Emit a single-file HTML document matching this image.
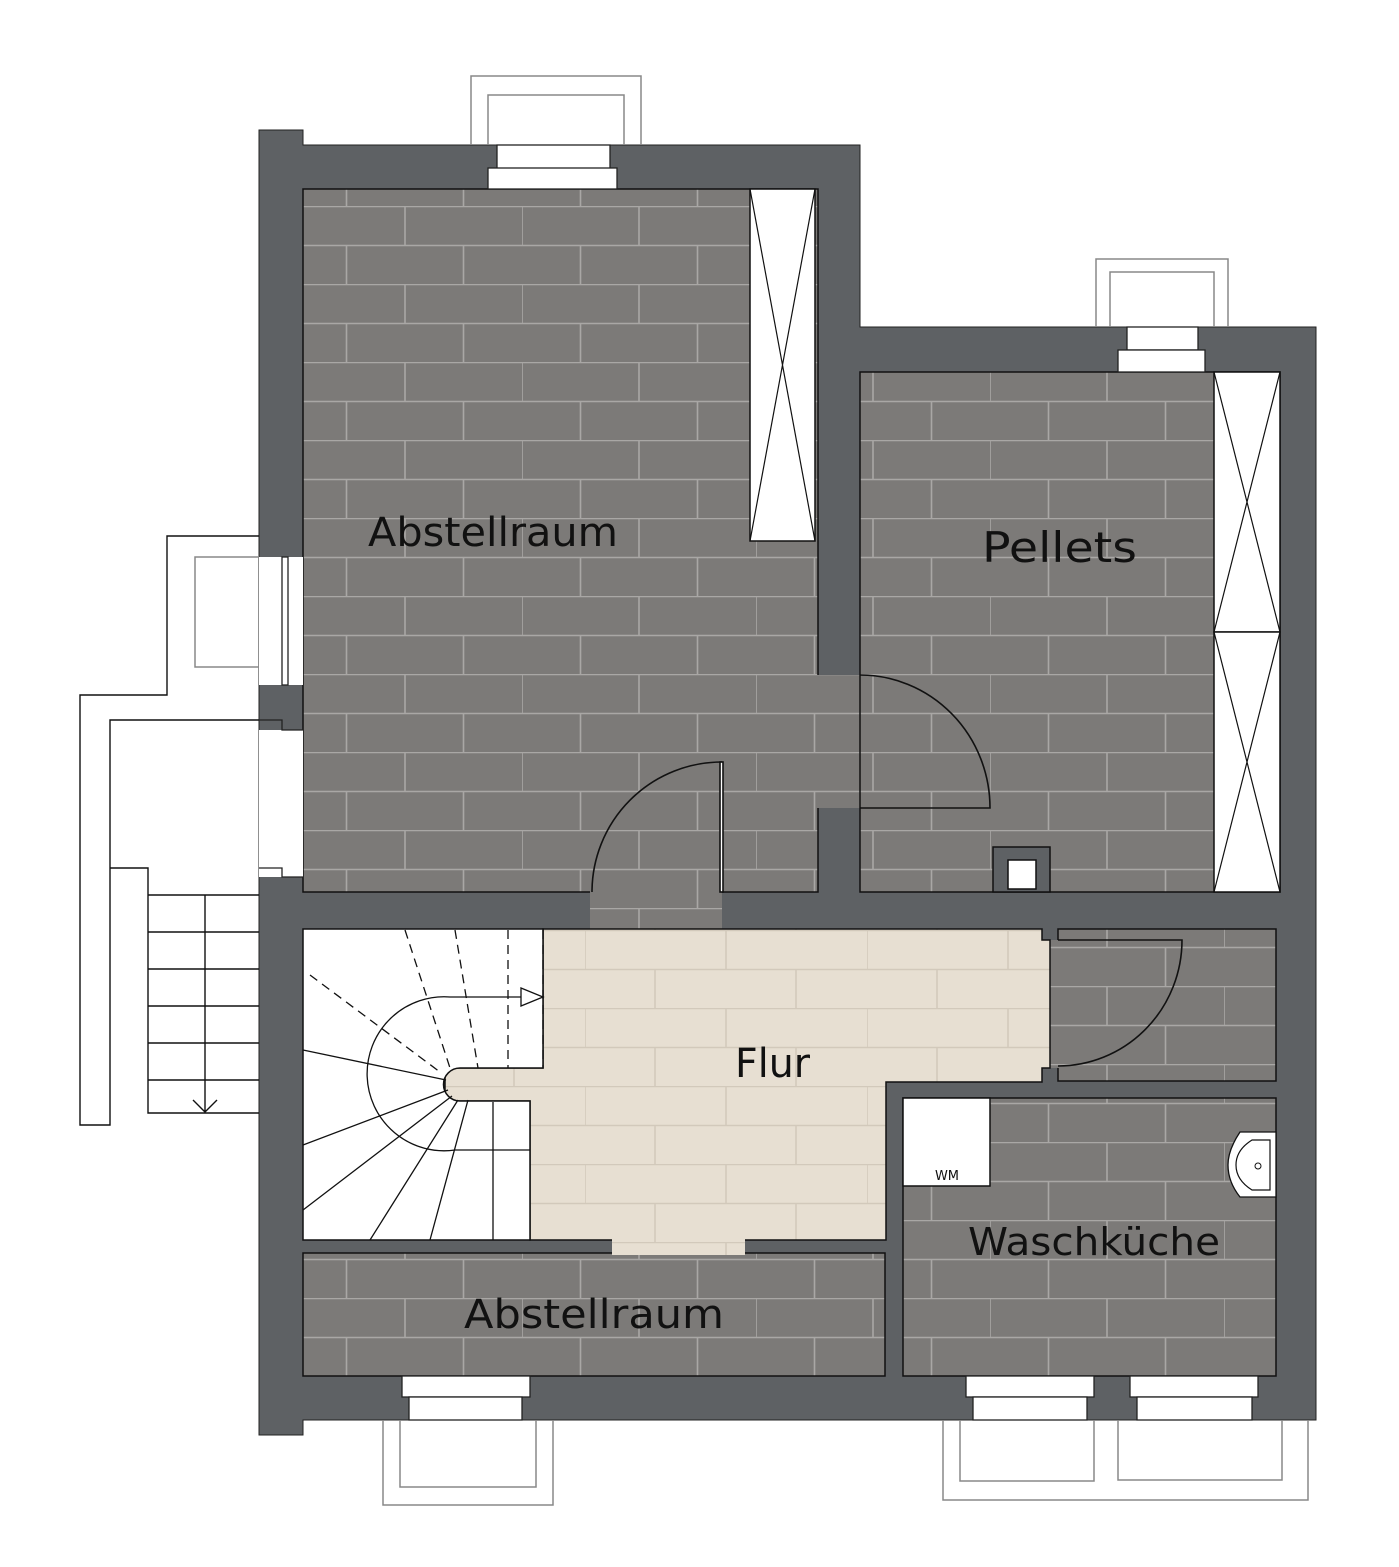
<!DOCTYPE html>
<html><head><meta charset="utf-8"><style>html,body{margin:0;padding:0;background:#fff}svg{display:block}</style></head><body>
<svg width="1399" height="1567" viewBox="0 0 1399 1567" xmlns="http://www.w3.org/2000/svg" font-family="'DejaVu Sans','Liberation Sans',sans-serif">
<defs>
<pattern id="g" x="288" y="206" width="234" height="78" patternUnits="userSpaceOnUse">
<rect width="234" height="78" fill="#7c7a78"/>
<path d="M0 0.5H234M0 39.5H234M0 0V39M117 0V39M58.5 39V78M175.5 39V78" stroke="#a9a7a5" stroke-width="1.6" fill="none"/>
</pattern>
<pattern id="b" x="303" y="930" width="282" height="78" patternUnits="userSpaceOnUse">
<rect width="282" height="78" fill="#e7dfd2"/>
<path d="M0 0.5H282M0 39.5H282M0 0V39M141 0V39M70 39V78M211 39V78" stroke="#d2c9bb" stroke-width="1.5" fill="none"/>
</pattern>
</defs>
<path d="M259 130H303V145H860V327H1316V1420H303V1435H259Z" fill="#5e6164" stroke="#222" stroke-width="1"/>
<g stroke="#111" stroke-width="1.5">
<rect x="303" y="189" width="515" height="703" fill="url(#g)"/>
<rect x="817" y="675" width="45" height="133" fill="url(#g)" stroke="none"/>
<rect x="860" y="372" width="420" height="520" fill="url(#g)"/>
<rect x="590" y="890" width="132" height="42" fill="url(#g)" stroke="none"/>
<rect x="1058" y="929" width="218" height="152" fill="url(#g)"/>
<rect x="903" y="1098" width="373" height="278" fill="url(#g)"/>
<rect x="1045" y="940" width="16" height="128" fill="url(#g)" stroke="none"/>
<rect x="303" y="1253" width="582" height="123" fill="url(#g)"/>
<path d="M543 929H1042V940H1050V1068H1042V1082H886V1240H530V1101H445V1068H543Z" fill="url(#b)"/>
<rect x="612" y="1238" width="133" height="17" fill="url(#b)" stroke="none"/>
<path d="M303 929H543V1068H460A16 16 0 0 0 460 1101H530V1240H303Z" fill="#fff"/>
</g>
<rect x="993" y="847" width="57" height="45" fill="#5e6164" stroke="#111" stroke-width="1.5"/>
<rect x="1008" y="860" width="28" height="29" fill="#fff" stroke="#111" stroke-width="1.5"/>
<g fill="#fff" stroke="#111" stroke-width="1.5">
<rect x="750" y="189" width="65" height="352"/>
<path d="M750 189L815 541M815 189L750 541" fill="none" stroke-width="1.2"/>
<rect x="1214" y="372" width="66" height="260"/>
<rect x="1214" y="632" width="66" height="260"/>
<path d="M1214 372L1280 632M1280 372L1214 632M1214 632L1280 892M1280 632L1214 892" fill="none" stroke-width="1.2"/>
</g>
<g fill="#fff" stroke="#222" stroke-width="1.3">
<rect x="497" y="145" width="113" height="24"/><rect x="488" y="168" width="129" height="21"/>
<rect x="1127" y="327" width="71" height="23"/><rect x="1118" y="350" width="87" height="22"/>
<rect x="402" y="1376" width="128" height="21"/><rect x="409" y="1397" width="113" height="23"/>
<rect x="966" y="1376" width="128" height="21"/><rect x="973" y="1397" width="114" height="23"/>
<rect x="1130" y="1376" width="128" height="21"/><rect x="1137" y="1397" width="115" height="23"/>
<rect x="259" y="557" width="44" height="128" stroke="none"/>
<rect x="282" y="557" width="6" height="128"/>
<rect x="259" y="730" width="44" height="147" stroke="none"/>
<path d="M259 720H282V730H303M259 868H282V877H303" fill="none"/>
</g>
<g fill="none" stroke="#888" stroke-width="1.5">
<path d="M471 145V76H641V145M488 145V95H624V145"/>
<path d="M1096 327V259H1228V327M1110 327V272H1214V327"/>
<path d="M383 1420V1505H553V1420M400 1420V1487H536V1420"/>
<path d="M943 1420V1500H1308V1420M960 1420V1481H1094V1420M1118 1420V1480H1282V1420"/>
<path d="M259 557H195V667H259"/>
</g>
<g fill="none" stroke="#111" stroke-width="1.4">
<path d="M259 536H167V695H80V1125H110V720H259"/>
<path d="M110 868H148V1113H259"/>
<path d="M148 895H259M148 932H259M148 969H259M148 1006H259M148 1043H259M148 1080H259M205 895V1112M193 1100L205 1112L217 1100"/>
</g>
<g fill="none" stroke="#111" stroke-width="1.3">
<path d="M405 930L450 1068M455 930L478 1068M508 930V1068M543 930V1068M310 975L440 1072" stroke-dasharray="9 6"/>
<path d="M303 1050L446 1080M303 1145L448 1090M303 1210L452 1096M370 1240L458 1100M430 1240L468 1100M493 1240V1102M455 1150H530"/>
<path d="M455 1150A77 77 0 1 1 450 997H521"/>
<path d="M521 988L543 997L521 1006Z" fill="#fff"/>
</g>
<g fill="none" stroke="#111" stroke-width="1.6">
<path d="M860 675A130 133 0 0 1 990 808H860"/>
<path d="M722 762A130 130 0 0 0 592 892"/>
<rect x="720" y="762" width="3" height="130" fill="#fff"/>
<path d="M1058 940H1182A124 126 0 0 1 1058 1066"/>
</g>
<rect x="903" y="1098" width="87" height="88" fill="#fff" stroke="#111" stroke-width="1.5"/>
<text x="947" y="1180" font-size="13" text-anchor="middle" fill="#111">WM</text>
<path d="M1276 1132H1240Q1228 1150 1228 1165Q1228 1182 1240 1197H1276Z" fill="#fff" stroke="#111" stroke-width="1.3"/>
<path d="M1270 1140H1252Q1236 1150 1236 1165Q1236 1180 1252 1190H1270Z" fill="none" stroke="#111" stroke-width="1.2"/>
<circle cx="1258" cy="1166" r="3" fill="none" stroke="#111" stroke-width="1"/>
<g fill="#111">
<text x="368" y="546" font-size="40" textLength="250" lengthAdjust="spacingAndGlyphs">Abstellraum</text>
<text x="982" y="562" font-size="42" textLength="155" lengthAdjust="spacingAndGlyphs">Pellets</text>
<text x="735" y="1077" font-size="40" textLength="75" lengthAdjust="spacingAndGlyphs">Flur</text>
<text x="968" y="1255" font-size="38" textLength="252" lengthAdjust="spacingAndGlyphs">Waschküche</text>
<text x="464" y="1328" font-size="40" textLength="260" lengthAdjust="spacingAndGlyphs">Abstellraum</text>
</g>
</svg>
</body></html>
